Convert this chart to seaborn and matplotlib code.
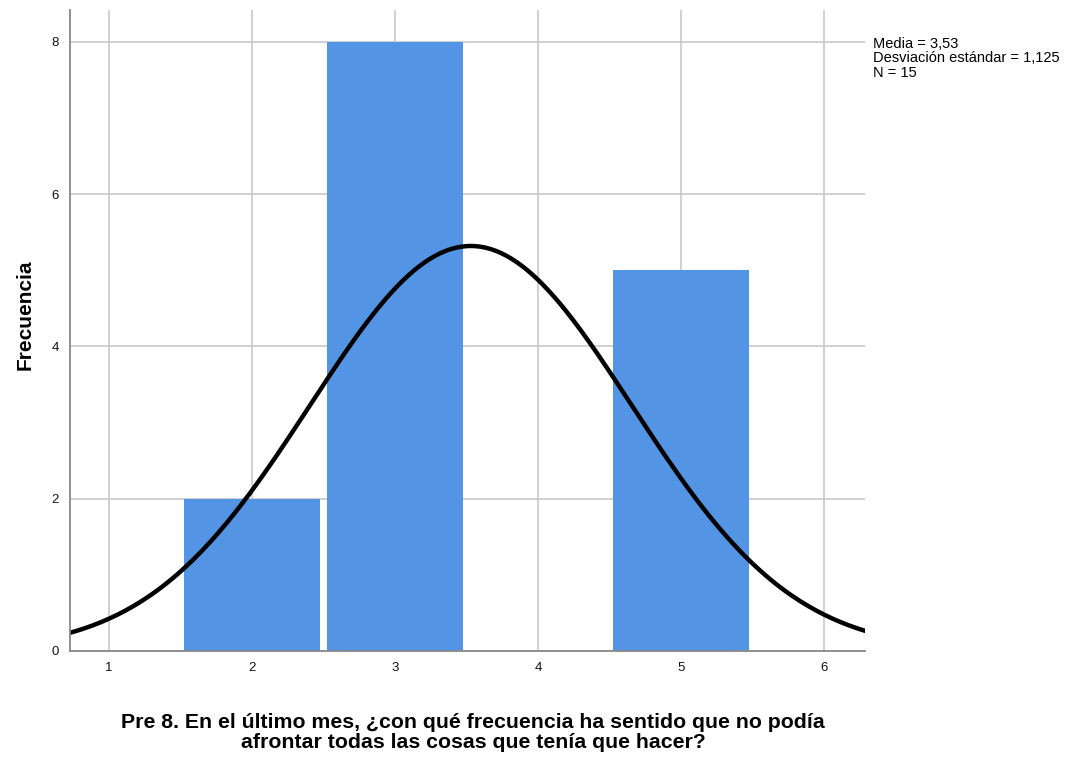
import numpy as np
import pandas as pd
import matplotlib
matplotlib.use("Agg")
import matplotlib.pyplot as plt
import seaborn as sns

# Response values and counts
valores = [2, 3, 5]
frecuencias = [2, 8, 5]

media = 3.53
desviacion = 1.125
n_total = 15

datos = pd.DataFrame({"respuesta": np.repeat(valores, frecuencias)})

sns.set_style("white")
plt.rcParams['font.family'] = ['Liberation Sans', 'DejaVu Sans']

fig = plt.figure(figsize=(10.72, 7.62), dpi=100)
ax = fig.add_axes([0.0653, 0.1457, 0.7417, 0.8413])

# vertical and horizontal reference lines behind the bars
ax.set_axisbelow(True)
ax.grid(True, color="#c8c8c8", linewidth=1.2)

sns.histplot(data=datos, x="respuesta", discrete=True, shrink=0.95,
             color="#5394e4", alpha=1.0, edgecolor="#5394e4", linewidth=0, ax=ax)

# normal curve scaled to the counts (bin width 1)
xs = np.linspace(0.72, 6.3, 300)
ys = n_total * 1.0 * np.exp(-0.5 * ((xs - media) / desviacion) ** 2) / (desviacion * np.sqrt(2 * np.pi))
sns.lineplot(x=xs, y=ys, color="black", linewidth=3.2, ax=ax)

ax.set_xlim(0.727, 6.287)
ax.set_ylim(0, 8.42)
ax.set_xticks([1, 2, 3, 4, 5, 6])
ax.set_yticks([0, 2, 4, 6, 8])
ax.tick_params(axis="both", labelsize=9.5, length=0, pad=8, colors="#111111")

for lado in ["top", "right"]:
    ax.spines[lado].set_visible(False)
for lado in ["left", "bottom"]:
    ax.spines[lado].set_color("#888888")
    ax.spines[lado].set_linewidth(1.3)

ax.set_ylabel("Frecuencia", fontsize=15, fontweight="bold", color="black")
ax.yaxis.set_label_coords(-0.045, 0.525)
ax.set_xlabel("Pre 8. En el último mes, ¿con qué frecuencia ha sentido que no podía\n"
              "afrontar todas las cosas que tenía que hacer?",
              fontsize=15.3, fontweight="bold", color="black", linespacing=1.12)
ax.xaxis.set_label_coords(0.507, -0.096)

fig.text(0.8145, 0.952,
         "Media = 3,53\nDesviación estándar = 1,125\nN = 15",
         fontsize=10.5, va="top", ha="left", linespacing=1.05, color="black")

fig.savefig("out.png", dpi=100)
